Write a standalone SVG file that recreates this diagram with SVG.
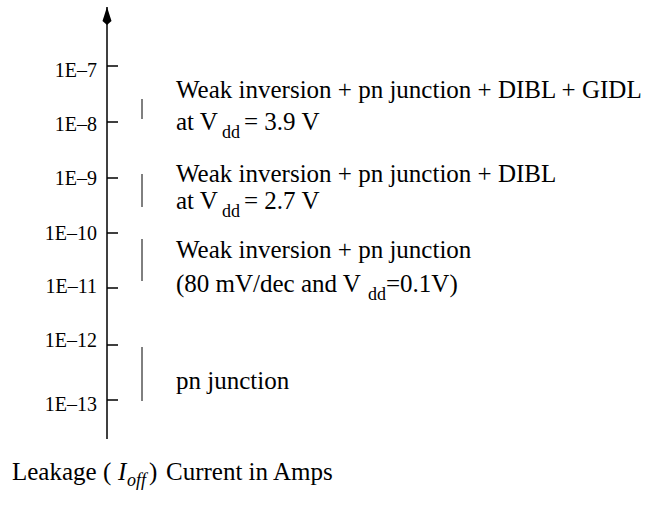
<svg xmlns="http://www.w3.org/2000/svg" width="661" height="517" viewBox="0 0 661 517">
  <style>
    text { font-family: "Liberation Serif", "Times New Roman", serif; fill: #000; }
    .tick-label { font-size: 20px; text-anchor: end; }
    .label { font-size: 25px; }
    .sub { font-size: 18px; }
    .axis { stroke: #000; stroke-width: 1.5; fill: none; }
    .range { stroke: #000; stroke-width: 1; fill: none; }
  </style>
  <defs>
    <marker id="arrowhead" viewBox="0 0 18 10" refX="18" refY="5" markerWidth="18" markerHeight="10" markerUnits="userSpaceOnUse" orient="auto">
      <path d="M18,5 L4,0.5 L0,5 L4,9.5 Z" fill="#000"/>
    </marker>
  </defs>

  <!-- vertical leakage axis with decade ticks -->
  <g id="axis">
    <path class="axis" d="M107,439 L107,7" marker-end="url(#arrowhead)"/>
    <path class="axis" d="M107,66 H118 M107,122 H118 M107,178 H118 M107,233 H118 M107,288 H118 M107,345 H118 M107,400 H118"/>
    <text class="tick-label" x="97" y="77">1E–7</text>
    <text class="tick-label" x="97" y="131">1E–8</text>
    <text class="tick-label" x="97" y="185">1E–9</text>
    <text class="tick-label" x="97" y="240">1E–10</text>
    <text class="tick-label" x="97" y="293">1E–11</text>
    <text class="tick-label" x="97" y="347">1E–12</text>
    <text class="tick-label" x="97" y="411">1E–13</text>
  </g>

  <!-- leakage ranges -->
  <g id="connectors">
    <path class="range" d="M142,99 V119"/>
    <path class="range" d="M142,174 V207"/>
    <path class="range" d="M142,239 V281"/>
    <path class="range" d="M142,347 V401"/>
  </g>

  <g id="range-gidl">
    <text class="label" x="176" y="98">Weak inversion + pn junction + DIBL + GIDL</text>
    <text class="label" x="176" y="130">at V</text>
    <text class="sub" x="222" y="138">dd</text>
    <text class="label" x="244" y="130">= 3.9 V</text>
  </g>

  <g id="range-dibl">
    <text class="label" x="176" y="182">Weak inversion + pn junction + DIBL</text>
    <text class="label" x="176" y="209">at V</text>
    <text class="sub" x="222" y="217">dd</text>
    <text class="label" x="244" y="209">= 2.7 V</text>
  </g>

  <g id="range-weak">
    <text class="label" x="176" y="258">Weak inversion + pn junction</text>
    <text class="label" x="176" y="292">(80 mV/dec and V</text>
    <text class="sub" x="368" y="300">dd</text>
    <text class="label" x="386" y="292">=0.1V)</text>
  </g>

  <g id="range-pn">
    <text class="label" x="176" y="389">pn junction</text>
  </g>

  <g id="axis-title">
    <text class="label" x="12" y="480">Leakage (<tspan x="118" font-style="italic">I</tspan><tspan x="127" dy="6" font-size="18" font-style="italic">off</tspan><tspan x="149" dy="-6">)</tspan><tspan x="166">Current in Amps</tspan></text>
  </g>
</svg>
